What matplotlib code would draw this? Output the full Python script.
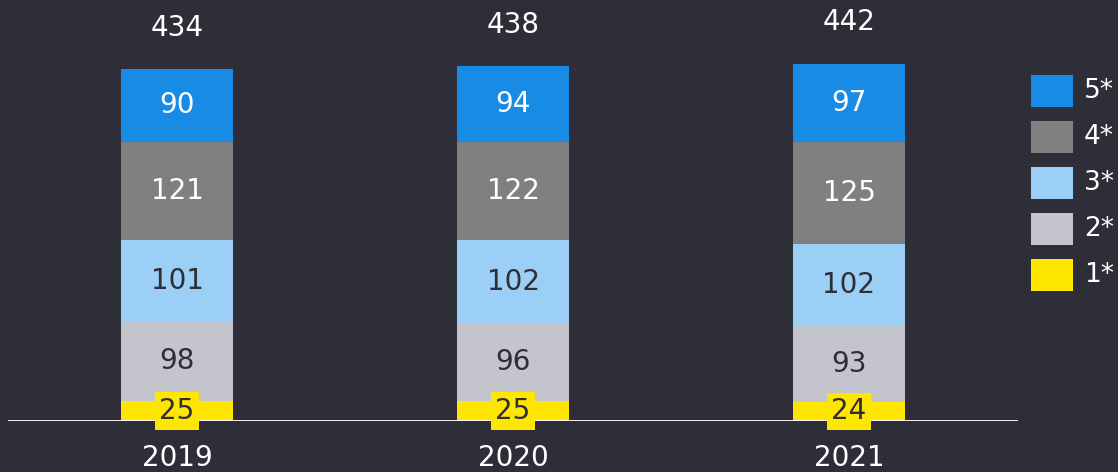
import matplotlib
matplotlib.use("Agg")
import matplotlib.pyplot as plt
from matplotlib.patches import Rectangle

years = ["2019", "2020", "2021"]
series_names = ["1*", "2*", "3*", "4*", "5*"]
s1 = [25, 25, 24]
s2 = [98, 96, 93]
s3 = [101, 102, 102]
s4 = [121, 122, 125]
s5 = [90, 94, 97]
totals = [434, 438, 442]

series = [s1, s2, s3, s4, s5]
colors = ["#ffe600", "#c4c4cd", "#9ccff6", "#808080", "#188ce5"]
text_colors = ["#2e2e38", "#2e2e38", "#2e2e38", "#ffffff", "#ffffff"]
BG = "#2e2e38"

plt.rcParams['font.family'] = ['DejaVu Sans']
fig = plt.figure(figsize=(11.18, 4.72), dpi=100, facecolor=BG)
ax = fig.add_axes([8/1118, 51/472, 1010/1118, 421/472])
ax.set_facecolor(BG)
ax.set_xlim(-0.503, 2.503)
ax.set_ylim(0, 520)
for s in ax.spines.values():
    s.set_visible(False)
ax.set_xticks([])
ax.set_yticks([])

x = list(range(len(years)))
bottom = [0] * len(years)
for i, (vals, c, tc) in enumerate(zip(series, colors, text_colors)):
    ax.bar(x, vals, width=0.333, bottom=bottom, color=c, zorder=2)
    for xi, v, b in zip(x, vals, bottom):
        kw = {}
        if i == 0:
            kw['bbox'] = dict(boxstyle='square,pad=0.17', fc=c, ec='none')
        ax.text(xi, b + v / 2, str(v), ha='center', va='center',
                color=tc, fontsize=20, zorder=5, **kw)
    bottom = [b + v for b, v in zip(bottom, vals)]

ax.axhline(0, color='#ffffff', lw=1.3, zorder=3)

for xi, t in zip(x, totals):
    ax.text(xi, t + 51, str(t), ha='center', va='center', color='#ffffff', fontsize=20)

for xi, yr in zip(x, years):
    ax.text(xi, -46, yr, ha='center', va='center', color='#ffffff', fontsize=20, clip_on=False)

# legend (top to bottom: 5* .. 1*)
W, H = 1118, 472
for k, idx in enumerate(reversed(range(len(series_names)))):
    cy = 91 + 46 * k
    fig.add_artist(Rectangle((1031 / W, (H - cy - 16) / H), 42 / W, 32 / H,
                             transform=fig.transFigure, fc=colors[idx], ec='none'))
    fig.text(1084 / W, (H - cy) / H, series_names[idx], ha='left', va='center',
             color='#ffffff', fontsize=19)

fig.savefig("out.png", dpi=100, facecolor=BG)
